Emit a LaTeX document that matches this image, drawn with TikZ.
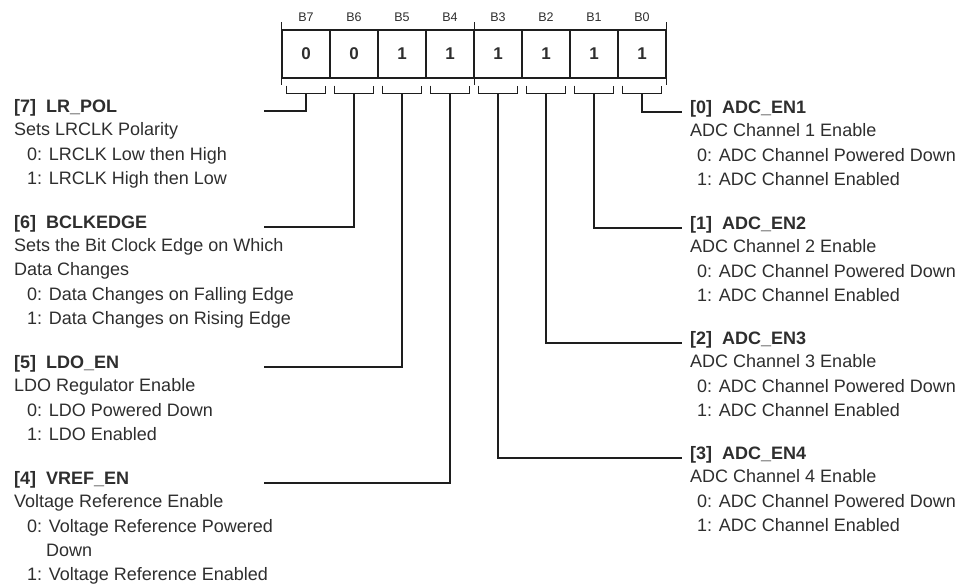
\documentclass[tikz,border=0pt]{standalone}
\usepackage{fontspec}
\setmainfont{Liberation Sans}
\definecolor{txt}{HTML}{2E2E2E}
\definecolor{ln}{HTML}{1E1E1E}
\begin{document}
\begin{tikzpicture}[x=1pt,y=-1pt,
  cell/.style={draw=ln, line width=1.2pt, minimum width=48pt, minimum height=48pt, inner sep=0pt,
               font=\fontsize{17}{17}\selectfont\bfseries, text=txt},
  hdr/.style={inner sep=0pt, font=\fontsize{12.5}{12.5}\selectfont, text=txt},
  ttl/.style={anchor=base west, inner sep=0pt, font=\fontsize{18}{20}\selectfont\bfseries, text=txt},
  sub/.style={anchor=base west, inner sep=0pt, font=\fontsize{18}{20}\selectfont, text=txt},
  wire/.style={draw=ln, line width=1.2pt},
]
\useasboundingbox (0,0) rectangle (958,586);

% register cells and headers
\foreach \b/\v [count=\i from 0] in {7/0,6/0,5/1,4/1,3/1,2/1,1/1,0/1} {
  \node[cell] (c\b) at ({306+48*\i},54) {\v};
  \node[hdr] (h\b) at ({306+48*\i},17) {B\b};
}
% ticks
\foreach \a in {c7.north west, c4.north east, c0.north east} {
  \draw[wire] (\a) -- ++(0pt,7pt);
}
\foreach \a in {c7.south west, c4.south east, c0.south east} {
  \draw[wire] (\a) -- ++(0pt,-6pt);
}
% brackets and stem tops
\foreach \b in {7,6,5,4,3,2,1,0} {
  \draw[wire] ([shift={(5pt,-7pt)}]c\b.south west) -- ([shift={(5pt,-15pt)}]c\b.south west)
     -- ([shift={(-5pt,-15pt)}]c\b.south east) -- ([shift={(-5pt,-7pt)}]c\b.south east);
  \coordinate (s\b) at ([yshift=-15pt]c\b.south);
}

% connector ends
\coordinate (e7) at (264,111);
\coordinate (e6) at (264,227);
\coordinate (e5) at (264,367);
\coordinate (e4) at (264,483);
\coordinate (e0) at (682,112);
\coordinate (e1) at (682,228);
\coordinate (e2) at (682,343);
\coordinate (e3) at (682,458);
\foreach \b in {7,6,5,4,3,2,1,0} {
  \draw[wire] (s\b) |- (e\b);
}

% left texts
\node[ttl] (t7) at (14,112) {[7]~ LR\_POL};
\node[sub] (t7a) at (14,135) {Sets LRCLK Polarity};
\node[sub] (t7b) at (27,160) {0: LRCLK Low then High};
\node[sub] (t7c) at (27,184) {1: LRCLK High then Low};

\node[ttl] (t6) at (14,228) {[6]~ BCLKEDGE};
\node[sub] (t6a) at (14,251) {Sets the Bit Clock Edge on Which};
\node[sub] (t6b) at (14,275) {Data Changes};
\node[sub] (t6c) at (27,300) {0: Data Changes on Falling Edge};
\node[sub] (t6d) at (27,324) {1: Data Changes on Rising Edge};

\node[ttl] (t5) at (14,368) {[5]~ LDO\_EN};
\node[sub] (t5a) at (14,391) {LDO Regulator Enable};
\node[sub] (t5b) at (27,416) {0: LDO Powered Down};
\node[sub] (t5c) at (27,440) {1: LDO Enabled};

\node[ttl] (t4) at (14,484) {[4]~ VREF\_EN};
\node[sub] (t4a) at (14,507) {Voltage Reference Enable};
\node[sub] (t4b) at (27,532) {0: Voltage Reference Powered};
\node[sub] (t4c) at (46,556) {Down};
\node[sub] (t4d) at (27,580) {1: Voltage Reference Enabled};

% right texts
\node[ttl] (t0) at (690,113) {[0]~ ADC\_EN1};
\node[sub] (t0a) at (690,136) {ADC Channel 1 Enable};
\node[sub] (t0b) at (697,161) {0: ADC Channel Powered Down};
\node[sub] (t0c) at (697,185) {1: ADC Channel Enabled};

\node[ttl] (t1) at (690,229) {[1]~ ADC\_EN2};
\node[sub] (t1a) at (690,252) {ADC Channel 2 Enable};
\node[sub] (t1b) at (697,277) {0: ADC Channel Powered Down};
\node[sub] (t1c) at (697,301) {1: ADC Channel Enabled};

\node[ttl] (t2) at (690,344) {[2]~ ADC\_EN3};
\node[sub] (t2a) at (690,367) {ADC Channel 3 Enable};
\node[sub] (t2b) at (697,392) {0: ADC Channel Powered Down};
\node[sub] (t2c) at (697,416) {1: ADC Channel Enabled};

\node[ttl] (t3) at (690,459) {[3]~ ADC\_EN4};
\node[sub] (t3a) at (690,482) {ADC Channel 4 Enable};
\node[sub] (t3b) at (697,507) {0: ADC Channel Powered Down};
\node[sub] (t3c) at (697,531) {1: ADC Channel Enabled};
\end{tikzpicture}
\end{document}
